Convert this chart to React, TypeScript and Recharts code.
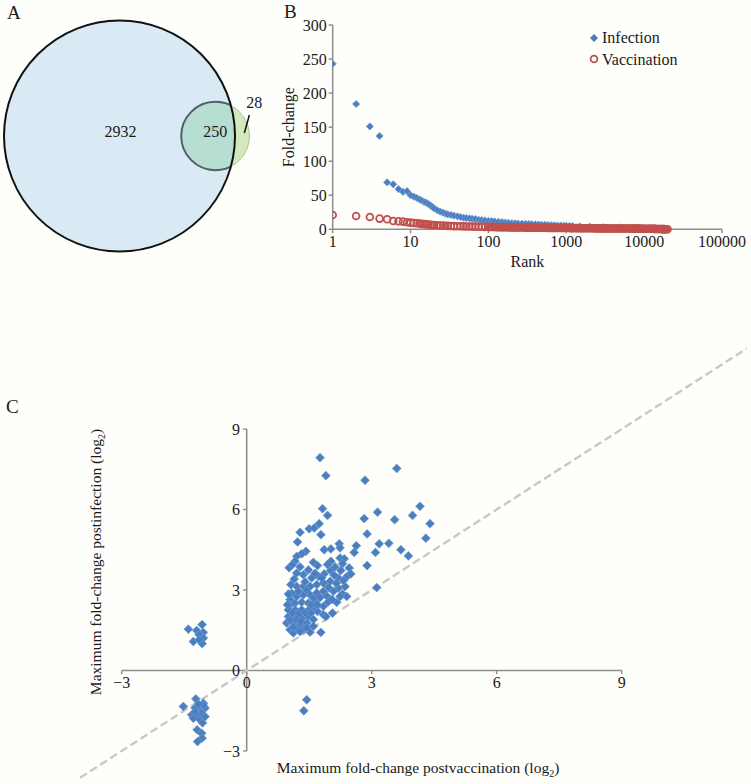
import React from 'react'
import { ScatterChart, Scatter, XAxis, YAxis, ZAxis, ReferenceLine, Legend } from 'recharts'

// A: gene sets (set sizes and the three Venn region counts)
const vennSets = ['Infection', 'Vaccination']
const vennSetCounts = [3182, 278]
const vennRegionLabels = ['2932', '250', '28']

// B: fold-change by rank
const infectionRank = [1, 2, 3, 4, 5, 6, 7, 8, 9, 10, 11, 12, 13, 14, 15, 16, 17, 18, 19, 20, 22, 24, 26, 28, 30, 33, 36, 40, 44, 48, 52, 57, 62, 68, 75, 82, 90, 100, 110, 120, 135, 150, 165, 180, 200, 220, 240, 270, 300, 330, 360, 400, 440, 480, 530, 580, 640, 700, 770, 850, 930, 1000, 1100, 1200, 1500, 2000, 3000, 5000, 8000, 12000, 18000]
const infectionFold = [243, 184, 151, 137, 69, 66, 59, 55, 56, 50, 48, 46, 44, 42, 40, 39, 37, 35, 33, 31, 28, 26, 24.5, 23, 22, 21, 20, 19, 18, 17, 16.5, 16, 15.5, 15, 14, 13.5, 13, 12.5, 12, 11.5, 11, 10.5, 10, 9.5, 9, 8.8, 8.5, 8.2, 8, 7.8, 7.5, 7.2, 7, 6.8, 6.5, 6.3, 6, 5.8, 5.6, 5.4, 5.2, 5, 4.8, 4.6, 4.2, 3.8, 3.3, 2.8, 2.3, 1.8, 1.2]
const vaccinationRank = [
  1, 2, 3, 4, 5, 6, 7, 8, 9, 10, 11, 12, 13, 14, 15, 16, 17, 18, 19, 20, 22, 24, 26, 28, 30, 33, 36, 40, 44, 48,
  52, 57, 62, 68, 75, 82, 90, 100, 105, 110, 115, 120, 127, 135, 142, 150, 157, 165, 172, 180, 190, 200, 210, 220,
  230, 240, 255, 270, 285, 300, 315, 330, 345, 360, 380, 400, 420, 440, 460, 480, 505, 530, 555, 580, 610, 640,
  670, 700, 735, 770, 810, 850, 890, 930, 965, 1000, 1050, 1100, 1150, 1200, 1270, 1350, 1420, 1500, 1570, 1650,
  1720, 1800, 1900, 2000, 2100, 2200, 2300, 2400, 2550, 2700, 2850, 3000, 3150, 3300, 3450, 3600, 3800, 4000,
  4200, 4400, 4600, 4800, 5050, 5300, 5550, 5800, 6100, 6400, 6700, 7000, 7350, 7700, 8100, 8500, 8900, 9300,
  9650, 10000, 10500, 11000, 11500, 12000, 12500, 13000, 13500, 14000, 14500, 15000, 15500, 16000, 16500, 17000,
  17500, 18000, 18500, 19000, 19500, 20000,
]
const vaccinationFold = [
  21, 19.6, 18, 15.7, 14.7, 12.2, 11.7, 11.3, 10.3, 9.8, 9.3, 8.8, 8.4, 8, 7.6, 7.3, 7, 6.7, 6.4, 6.2, 5.9, 5.6,
  5.4, 5.2, 5, 4.8, 4.6, 4.5, 4.4, 4.3, 4.2, 4.1, 4, 3.9, 3.8, 3.7, 3.6, 3.5, 3.45, 3.4, 3.35, 3.3, 3.25, 3.2,
  3.15, 3.1, 3.05, 3, 2.95, 2.9, 2.85, 2.8, 2.75, 2.7, 2.68, 2.65, 2.62, 2.6, 2.55, 2.5, 2.48, 2.45, 2.42, 2.4,
  2.38, 2.35, 2.32, 2.3, 2.28, 2.25, 2.22, 2.2, 2.18, 2.15, 2.12, 2.1, 2.08, 2.05, 2.02, 2, 1.98, 1.95, 1.92,
  1.9, 1.88, 1.85, 1.82, 1.8, 1.78, 1.75, 1.72, 1.7, 1.68, 1.65, 1.62, 1.6, 1.58, 1.55, 1.52, 1.5, 1.48, 1.45,
  1.42, 1.4, 1.39, 1.38, 1.36, 1.35, 1.32, 1.3, 1.29, 1.28, 1.26, 1.25, 1.22, 1.2, 1.19, 1.18, 1.16, 1.15, 1.12,
  1.1, 1.09, 1.08, 1.06, 1.05, 1.02, 1, 0.98, 0.95, 0.92, 0.9, 0.88, 0.85, 0.82, 0.8, 0.78, 0.75, 0.72, 0.7,
  0.65, 0.6, 0.55, 0.5, 0.45, 0.4, 0.35, 0.3, 0.25, 0.2, 0.15, 0.1, 0.08, 0.05,
]
const rankTicks = [1, 10, 100, 1000, 10000, 100000]
const foldTicks = [0, 50, 100, 150, 200, 250, 300]

// C: max fold-change (log2), [postvaccination, postinfection]
const upperGenes = [
  [1.76, 7.93], [1.9, 7.26], [3.6, 7.53], [2.84, 7.09], [1.82, 6.03], [1.94, 5.78], [3.14, 5.9], [2.82, 5.66],
  [3.55, 5.62], [4.16, 6.12], [3.98, 5.78], [4.4, 5.47], [4.3, 4.93], [2.89, 5.09], [3.18, 4.72], [3.41, 4.74],
  [3.7, 4.5], [3.88, 4.27], [3.09, 4.4], [2.63, 4.65], [2.58, 4.4], [2.89, 3.91], [3.12, 3.09],
]
const mainGenes = [
  [1.28, 5.15], [1.22, 4.79], [1.5, 5.28], [1.62, 5.31], [1.74, 5.47], [1.78, 5.06], [1.86, 4.5], [2.02, 4.53],
  [2.22, 4.72], [2.24, 4.57], [1.42, 4.44], [1.32, 4.35], [1.2, 4.25], [1.16, 4.07], [1.02, 3.83], [2.02, 4.07],
  [2.24, 4.19], [2.34, 4.16], [1.6, 4.03], [1.7, 3.91], [2.46, 3.82], [2.26, 3.73], [2.01, 3.73], [1.86, 3.6],
  [1.72, 3.51], [1.56, 3.45], [1.36, 3.57], [1.2, 3.63], [1.14, 3.41], [2.41, 3.51], [2.2, 3.45], [2.0, 3.32],
  [1.84, 3.26], [1.68, 3.2], [1.52, 3.13], [1.36, 3.13], [1.2, 3.13], [2.36, 3.13], [2.2, 3.07], [2.08, 2.95],
  [2.3, 2.85], [2.4, 2.76], [2.24, 2.76], [1.84, 2.95], [1.68, 2.89], [1.52, 2.82], [1.36, 2.82], [1.2, 2.76],
  [1.04, 2.64], [1.04, 2.45], [1.16, 2.51], [1.32, 2.54], [1.48, 2.51], [1.64, 2.57], [1.84, 2.39], [2.16, 2.54],
  [1.84, 2.08], [2.06, 2.14], [1.9, 2.01], [1.0, 2.26], [1.16, 2.26], [1.32, 2.26], [1.48, 2.24], [1.64, 2.33],
  [1.0, 2.01], [1.16, 2.01], [1.32, 1.96], [1.48, 2.01], [0.96, 1.77], [1.12, 1.77], [1.28, 1.71], [1.44, 1.77],
  [1.04, 1.52], [1.2, 1.58], [1.36, 1.52], [1.12, 1.4], [1.52, 1.43], [1.78, 1.42], [1.28, 1.45], [1.08, 2.88],
  [1.24, 2.95], [1.44, 3.0], [1.6, 2.7], [1.76, 2.72], [1.92, 2.78], [1.96, 3.1], [1.8, 3.45], [1.64, 3.62],
  [1.48, 3.75], [1.28, 3.86], [1.1, 3.95], [1.94, 3.95], [2.12, 3.86], [2.3, 3.98], [2.1, 3.55], [1.4, 3.3],
  [1.06, 3.2], [1.0, 2.85], [0.98, 2.45], [1.1, 2.15], [1.25, 2.1], [1.4, 2.15], [1.55, 2.15], [1.7, 2.2],
  [1.6, 1.9], [1.45, 1.6], [1.6, 1.65], [1.04, 1.9], [1.2, 1.9], [1.12, 1.62], [1.3, 1.85], [1.55, 2.45],
  [1.7, 2.45], [1.95, 2.55], [2.05, 2.65], [2.15, 3.25], [2.32, 3.35], [2.5, 3.6],
]
const leftGenes = [
  [-1.4, 1.54], [-1.07, 1.71], [-1.2, 1.49], [-1.04, 1.42], [-1.14, 1.33], [-1.04, 1.21], [-1.28, 1.08],
  [-1.07, 1.0], [-1.14, 1.15],
]
const lowerLeftGenes = [
  [-1.52, -1.34], [-1.22, -1.06], [-1.04, -1.22], [-1.12, -1.4], [-1.24, -1.4], [-1.0, -1.4], [-1.32, -1.65],
  [-1.2, -1.65], [-1.08, -1.59], [-1.28, -1.78], [-1.12, -1.84], [-1.0, -1.72], [-1.19, -2.21], [-1.08, -2.34],
  [-1.07, -2.52], [-1.18, -2.65], [-1.04, -1.3], [-1.16, -1.25], [-1.24, -1.55], [-1.06, -1.95],
]
const lowerRightGenes = [[1.44, -1.09], [1.37, -1.5]]
const logTicks = [-3, 0, 3, 6, 9]

const SERIF = "'Liberation Serif', 'DejaVu Serif', serif"
const INK = '#1a1a1a'
const AXIS = '#8e8e8e'
const BLUE = '#4a7ebf'
const RED = '#c0504d'

const vennGap = 46.8 // centre distance, in sqrt(gene count) units
const vennData = vennSets.map((name, i) => ({ name, count: vennSetCounts[i], x: i === 0 ? 0 : vennGap, y: 0 }))
const infectionData = infectionRank.map((rank, i) => ({ rank, fold: infectionFold[i] }))
const vaccinationData = vaccinationRank.map((rank, i) => ({ rank, fold: vaccinationFold[i] }))
const geneData = [...upperGenes, ...mainGenes, ...leftGenes, ...lowerLeftGenes, ...lowerRightGenes].map(([x, y]) => ({ x, y }))

const fmt = (v: number) => (v < 0 ? `\u2212${Math.abs(v)}` : `${v}`)

const radiusOf = (p: any) => (p.width ? p.width / 2 : Math.sqrt(Math.max(p.size || 0, 0) / Math.PI))

function InfectionFill(p: any) {
  const r = radiusOf(p)
  return (
    <g>
      <defs>
        <clipPath id="venn-infection">
          <circle cx={p.cx} cy={p.cy} r={r} />
        </clipPath>
      </defs>
      <circle cx={p.cx} cy={p.cy} r={r} fill="#d9eaf4" />
    </g>
  )
}

function VaccinationSet(p: any) {
  const r = radiusOf(p)
  return (
    <g>
      <circle cx={p.cx} cy={p.cy} r={r} fill="#d3e9bd" stroke="#a9c690" strokeWidth={1} />
      <circle cx={p.cx} cy={p.cy} r={r} fill="#b7dfd1" stroke="#4e606c" strokeWidth={2} clipPath="url(#venn-infection)" />
      <text x={p.cx} y={p.cy + 1} textAnchor="middle" fontSize={16} fill={INK}>{vennRegionLabels[1]}</text>
      <text x={p.cx + 39} y={p.cy - 28} textAnchor="middle" fontSize={16} fill={INK}>{vennRegionLabels[2]}</text>
      <line x1={p.cx + 34} y1={p.cy - 21} x2={p.cx + 29} y2={p.cy - 3} stroke="#111" strokeWidth={1.5} />
    </g>
  )
}

function InfectionOutline(p: any) {
  const r = radiusOf(p)
  return (
    <g>
      <circle cx={p.cx} cy={p.cy} r={r} fill="none" stroke="#111" strokeWidth={2} />
      <text x={p.cx + 1} y={p.cy + 1} textAnchor="middle" fontSize={16} fill={INK}>{vennRegionLabels[0]}</text>
    </g>
  )
}

const diamond = (r: number) => (p: any) => {
  if (p.cx == null || p.cy == null) return <g />
  const { cx, cy } = p
  return (
    <polygon
      points={`${cx},${cy - r} ${cx + r},${cy} ${cx},${cy + r} ${cx - r},${cy}`}
      fill={BLUE}
      stroke="#6f9bd4"
      strokeWidth={0.8}
    />
  )
}

const ring = (p: any) => {
  if (p.cx == null || p.cy == null) return <g />
  return <circle cx={p.cx} cy={p.cy} r={3.4} fill="none" stroke={RED} strokeWidth={1.8} />
}

const renderBLegend = (props: any) => {
  const items = props.payload ?? []
  return (
    <div style={{ fontSize: 16, lineHeight: '21.5px', color: INK, fontFamily: SERIF }}>
      {items.map((item: any) => (
        <div key={item.value} style={{ display: 'flex', alignItems: 'center' }}>
          <svg width={14} height={14} style={{ marginRight: 1 }}>
            {item.value === 'Infection' ? (
              <polygon points="7,3 11,7 7,11 3,7" fill={BLUE} />
            ) : (
              <circle cx={7} cy={7} r={3.4} fill="none" stroke={RED} strokeWidth={1.8} />
            )}
          </svg>
          <span>{item.value}</span>
        </div>
      ))}
    </div>
  )
}

const panelLetter = (letter: string, left: number, top: number) => (
  <div style={{ position: 'absolute', left, top, fontSize: 19, lineHeight: '20px', color: INK }}>{letter}</div>
)

export default function App() {
  return (
    <div
      className="fig"
      style={{
        position: 'absolute', left: 0, top: 0, width: 751, height: 784,
        background: '#fefefb', fontFamily: SERIF, color: INK, overflow: 'hidden',
      }}
    >
      <style>{`.fig svg text, .fig svg tspan { font-family: 'Liberation Serif', 'DejaVu Serif', serif !important; }`}</style>
      {panelLetter('A', 7, 3)}
      {panelLetter('B', 284, 2)}
      {panelLetter('C', 6, 397)}

      {/* A */}
      <div style={{ position: 'absolute', left: 0, top: 0 }}>
        <ScatterChart width={272} height={256} margin={{ top: 0, right: 0, bottom: 0, left: 0 }}>
          <XAxis type="number" dataKey="x" domain={[-58.35, 74.46]} hide />
          <YAxis type="number" dataKey="y" domain={[-58.6, 66.4]} hide />
          <ZAxis type="number" dataKey="count" domain={[0, vennSetCounts[0]]} range={[0, 41910]} />
          <Scatter data={vennData.slice(0, 1)} shape={InfectionFill} isAnimationActive={false} />
          <Scatter data={vennData.slice(1)} shape={VaccinationSet} isAnimationActive={false} />
          <Scatter data={vennData.slice(0, 1)} shape={InfectionOutline} isAnimationActive={false} />
        </ScatterChart>
      </div>

      {/* B */}
      <div style={{ position: 'absolute', left: 260, top: 0 }}>
        <ScatterChart width={491} height={275} margin={{ top: 25, right: 29, bottom: 0, left: 0 }}>
          <XAxis
            type="number" dataKey="rank" scale="log" domain={[1, 100000]} ticks={rankTicks} interval={0}
            allowDataOverflow height={45.7} tickSize={4}
            stroke={AXIS} strokeWidth={1.5}
            tick={{ fill: INK, fontSize: 16 }}
            label={{ value: 'Rank', position: 'insideBottom', offset: 8, fill: INK, fontSize: 16 }}
          />
          <YAxis
            type="number" dataKey="fold" domain={[0, 300]} ticks={foldTicks} interval={0}
            width={72.7} tickSize={4} stroke={AXIS} strokeWidth={1.5}
            tick={{ fill: INK, fontSize: 16 }}
            label={{
              value: 'Fold-change', angle: -90, position: 'insideLeft', offset: 28,
              fill: INK, fontSize: 16, style: { textAnchor: 'middle' },
            }}
          />
          <Legend
            layout="vertical" align="center" verticalAlign="middle"
            content={renderBLegend}
            wrapperStyle={{ left: 327, top: 27, width: 'auto', height: 'auto' }}
          />
          <Scatter name="Infection" data={infectionData} shape={diamond(3.6)} isAnimationActive={false} />
          <Scatter name="Vaccination" data={vaccinationData} shape={ring} isAnimationActive={false} />
        </ScatterChart>
      </div>

      {/* C */}
      <div style={{ position: 'absolute', left: 0, top: 330 }}>
        <ScatterChart width={751} height={454} margin={{ top: 99, right: 129.3, bottom: 33, left: 121.7 }}>
          <XAxis type="number" dataKey="x" domain={[-3, 9]} hide />
          <YAxis type="number" dataKey="y" domain={[-3, 9]} hide />
          <ReferenceLine y={0} stroke={AXIS} strokeWidth={1.6} />
          <ReferenceLine x={0} stroke={AXIS} strokeWidth={1.6} />
          {logTicks.map((t) => (
            <ReferenceLine
              key={`xt${t}`}
              segment={[{ x: t, y: 0 }, { x: t, y: -0.13 }]}
              stroke={AXIS} strokeWidth={1.4}
              label={{ value: fmt(t), position: 'bottom', offset: 3, fill: INK, fontSize: 16 }}
            />
          ))}
          {logTicks.map((t) => (
            <ReferenceLine
              key={`yt${t}`}
              segment={[{ x: 0, y: t }, { x: -0.09, y: t }]}
              stroke={AXIS} strokeWidth={1.4}
              label={{ value: fmt(t), position: 'left', offset: 3, fill: INK, fontSize: 16 }}
            />
          ))}
          <ReferenceLine
            segment={[{ x: -4, y: -4 }, { x: 12, y: 12 }]}
            ifOverflow="visible"
            stroke="#c8c8c8" strokeWidth={2.4} strokeDasharray="8 4"
          />
          <Scatter data={geneData} shape={diamond(4.4)} isAnimationActive={false} />
        </ScatterChart>
      </div>

      <div style={{ position: 'absolute', left: 97, top: 562, width: 0, height: 0 }}>
        <div
          style={{
            position: 'absolute', left: 0, top: 0, whiteSpace: 'nowrap', fontSize: 15.5,
            transform: 'translate(-50%, -50%) rotate(-90deg)',
          }}
        >
          Maximum fold-change postinfection (log<sub style={{ fontSize: 10 }}>2</sub>)
        </div>
      </div>
      <div
        style={{
          position: 'absolute', left: 418, top: 769, whiteSpace: 'nowrap', fontSize: 15.5,
          transform: 'translate(-50%, -50%)',
        }}
      >
        Maximum fold-change postvaccination (log<sub style={{ fontSize: 10 }}>2</sub>)
      </div>
    </div>
  )
}
